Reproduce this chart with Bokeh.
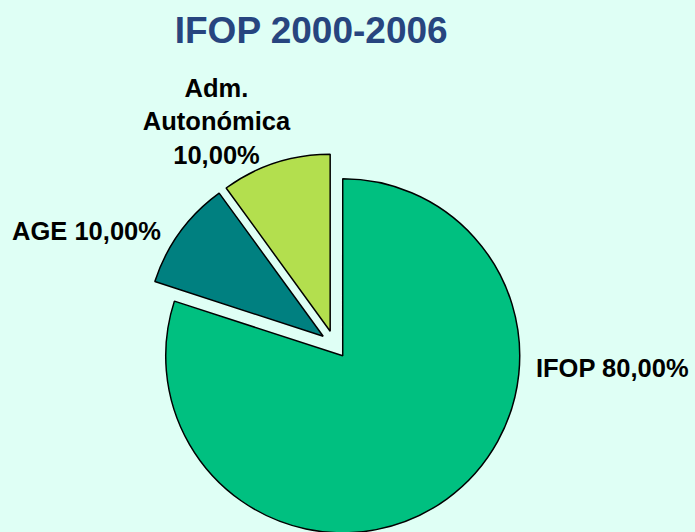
import math
from bokeh.plotting import figure
from bokeh.models import Range1d, ColumnDataSource
from bokeh.embed import file_html
from bokeh.resources import INLINE
from bokeh.core.properties import value

# ---- data ----
categories = ["IFOP", "AGE", "Adm. Autonómica"]
shares = [80.0, 10.0, 10.0]
labels = ["IFOP 80,00%", "AGE 10,00%", "Adm.\nAutonómica\n10,00%"]
colors = ["#00C080", "#008080", "#B3DF4E"]
title_text = "IFOP 2000-2006"

# ---- layout ----
W, H = 695, 532
BG = "#DFFFF5"
FONT = "Liberation Sans"

p = figure(width=W, height=H, x_range=Range1d(0, W), y_range=Range1d(0, H),
           output_backend="svg", toolbar_location=None, min_border=0)
p.axis.visible = False
p.grid.visible = False
p.outline_line_color = None
p.background_fill_color = BG
p.border_fill_color = BG

def page_to_data(px, py):
    return px, H - py

cx, cy = page_to_data(334, 344)
R, explode = 177, 14
total = sum(shares)
starts, ends, xs, ys = [], [], [], []
cum = 0.0
for v in shares:
    a0 = math.pi / 2 - 2 * math.pi * cum / total
    cum += v
    a1 = math.pi / 2 - 2 * math.pi * cum / total
    mid = (a0 + a1) / 2
    starts.append(a0)
    ends.append(a1)
    xs.append(cx + explode * math.cos(mid))
    ys.append(cy + explode * math.sin(mid))

src = ColumnDataSource(dict(x=xs, y=ys, start=starts, end=ends, color=colors, cat=categories))
p.wedge(x="x", y="y", radius=R, start_angle="start", end_angle="end", direction="clock",
        fill_color="color", line_color="black", line_width=1.5, source=src)

# label positions (page pixels)
label_pos = [(612, 367), (86, 230), (216, 121)]
lx, ly = zip(*[page_to_data(a, b) for a, b in label_pos])
lsrc = ColumnDataSource(dict(x=list(lx), y=list(ly), text=labels))
p.text(x="x", y="y", text="text", source=lsrc, text_align="center", text_baseline="middle",
       text_font=value(FONT), text_font_style="bold", text_font_size="25.5px",
       text_color="black", text_line_height=1.19)

tx, ty = page_to_data(311, 30)
tsrc = ColumnDataSource(dict(x=[tx], y=[ty], text=[title_text]))
p.text(x="x", y="y", text="text", source=tsrc, text_align="center", text_baseline="middle",
       text_font=value(FONT), text_font_style="bold", text_font_size="37px",
       text_color="#27457F")

html = file_html(p, INLINE)
html = html.replace("</head>", "<style>body{background:%s;}</style></head>" % BG, 1)
open("out.html", "w").write(html)
